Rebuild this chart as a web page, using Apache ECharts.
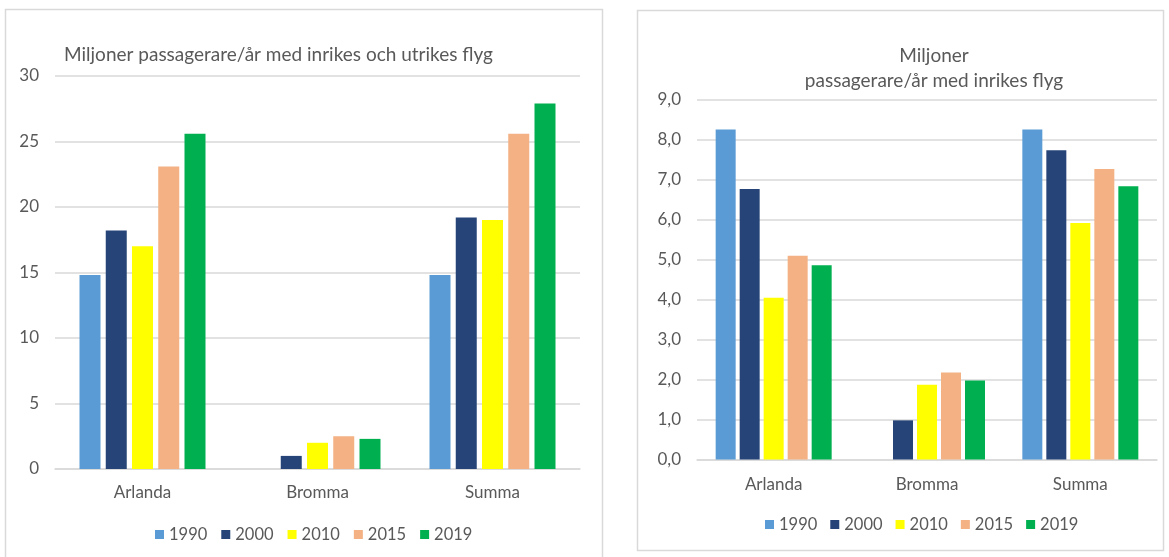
<!DOCTYPE html>
<html>
<head>
<meta charset="utf-8">
<script src="https://cdn.jsdelivr.net/npm/echarts@6/dist/echarts.min.js"></script>
<style>
  html, body { margin: 0; padding: 0; background: #fff; }
  #chart { width: 1169px; height: 557px; }
</style>
</head>
<body>
<div id="chart"></div>
<script>
// Airports and years shown in both panels
const airports = ['Arlanda', 'Bromma', 'Summa'];
const years = ['1990', '2000', '2010', '2015', '2019'];
const yearColors = ['#5B9BD5', '#264478', '#FFFF00', '#F4B183', '#00B050'];

// Million passengers per year, domestic + international (per year, per airport)
const total1990 = [14.8, null, 14.8];
const total2000 = [18.2, 1.0, 19.2];
const total2010 = [17.0, 2.0, 19.0];
const total2015 = [23.1, 2.5, 25.6];
const total2019 = [25.6, 2.3, 27.9];

// Million passengers per year, domestic only
const dom1990 = [8.26, null, 8.26];
const dom2000 = [6.77, 0.98, 7.74];
const dom2010 = [4.05, 1.87, 5.92];
const dom2015 = [5.10, 2.18, 7.27];
const dom2019 = [4.86, 1.98, 6.84];

// Axis ticks
const totalTicks = { min: 0, max: 30, step: 5 };
const domTicks = { min: 0, max: 9, step: 1 };

const totalSeries = [total1990, total2000, total2010, total2015, total2019];
const domSeries = [dom1990, dom2000, dom2010, dom2015, dom2019];

const FONT = 'Lato, "Open Sans", sans-serif';
const TEXT = '#595959';
const GRID = '#D9D9D9';

function xAxisFor(gridIndex, margin) {
  return {
    type: 'category', gridIndex, data: airports,
    axisTick: { show: false },
    axisLine: { lineStyle: { color: GRID, width: 1.5 } },
    axisLabel: { color: TEXT, fontFamily: FONT, fontSize: 17, margin }
  };
}
function yAxisFor(gridIndex, t, fmt) {
  return {
    type: 'value', gridIndex, min: t.min, max: t.max, interval: t.step,
    axisLine: { show: false }, axisTick: { show: false },
    splitLine: { lineStyle: { color: GRID, width: 1.5 } },
    axisLabel: { color: TEXT, fontFamily: FONT, fontSize: 17, margin: 16, formatter: fmt }
  };
}
function barsFor(data, idx, barWidth, barGap) {
  return data.map((vals, i) => ({
    type: 'bar', name: years[i], xAxisIndex: idx, yAxisIndex: idx,
    data: vals, barWidth, barGap,
    itemStyle: { color: yearColors[i] },
    emphasis: { disabled: true }
  }));
}
function legendFor(left, top, gap) {
  return {
    data: years, left, top, itemWidth: 9, itemHeight: 9, itemGap: gap,
    icon: 'rect',
    textStyle: { color: TEXT, fontFamily: FONT, fontSize: 16.5 }
  };
}

const chart = echarts.init(document.getElementById('chart'), null, { renderer: 'canvas' });
chart.setOption({
  backgroundColor: '#fff',
  animation: false,
  color: yearColors,
  graphic: [
    { type: 'rect', shape: { x: 5.5, y: 9.5, width: 597, height: 560 },
      style: { fill: 'none', stroke: '#D9D9D9', lineWidth: 1.5 }, silent: true },
    { type: 'rect', shape: { x: 637.5, y: 10.5, width: 526, height: 540 },
      style: { fill: 'none', stroke: '#D9D9D9', lineWidth: 1.5 }, silent: true }
  ],
  title: [
    { text: 'Miljoner passagerare/år med inrikes och utrikes flyg', left: 59, top: 38,
      textStyle: { color: TEXT, fontFamily: FONT, fontSize: 19, fontWeight: 'normal', lineHeight: 24 } },
    { text: 'Miljoner\npassagerare/år med inrikes flyg', left: 929, top: 38, textAlign: 'center',
      textStyle: { color: TEXT, fontFamily: FONT, fontSize: 19, fontWeight: 'normal', lineHeight: 25 } }
  ],
  legend: [legendFor(150, 521, 14), legendFor(760, 511, 13)],
  grid: [
    { left: 55, right: 589, top: 76, bottom: 88 },
    { left: 697, right: 12, top: 100, bottom: 97.5 }
  ],
  xAxis: [xAxisFor(0, 15), xAxisFor(1, 17)],
  yAxis: [
    yAxisFor(0, totalTicks, v => String(v)),
    yAxisFor(1, domTicks, v => v.toFixed(1).replace('.', ','))
  ],
  series: [...barsFor(totalSeries, 0, 21, '25%'), ...barsFor(domSeries, 1, 20, '20%')]
});
</script>
</body>
</html>
